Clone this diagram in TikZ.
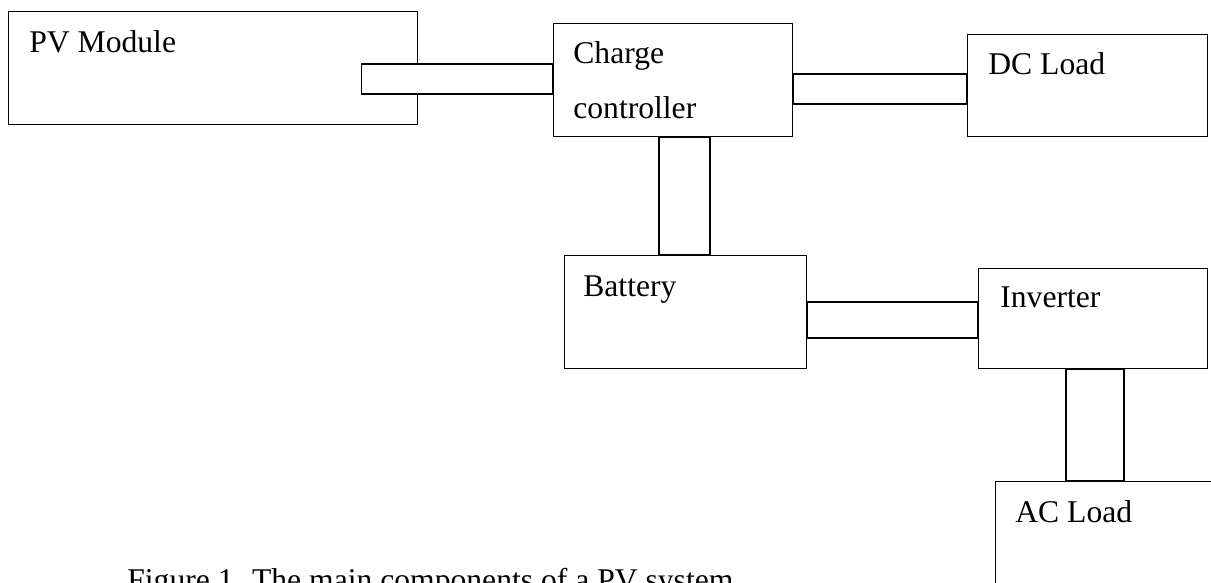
\documentclass[tikz,border=0pt]{standalone}
\usepackage{fontspec}
\setmainfont{Liberation Serif}
\usepackage{tikz}
\usetikzlibrary{positioning}
\usetikzlibrary{calc}

\tikzset{
    unit/.style={draw, line width=0.8pt, anchor=north west, inner sep=0pt},
    tag/.style={anchor=base west, inner sep=0pt, align=left,
        font=\fontsize{18}{31.3}\selectfont},
    pipe/.style={draw, fill=white, line width=0.8pt},
}

\begin{document}
\begin{tikzpicture}[x=0.02cm, y=-0.02cm]
    \useasboundingbox (0, 0) rectangle (1211, 582);
    \clip (0, 0) rectangle (1211, 582);

    \node[unit, minimum width=8.18cm, minimum height=2.26cm] (pv) at (8, 11) {};
    \node[unit, minimum width=4.78cm, minimum height=2.26cm] (cc) at (553, 23) {};
    \node[unit, minimum width=4.80cm, minimum height=2.04cm] (dc) at (967, 34) {};
    \node[unit, minimum width=4.84cm, minimum height=2.26cm] (bat) at (564, 255) {};
    \node[unit, minimum width=4.58cm, minimum height=2.00cm] (inv) at (978, 268) {};
    \node[unit, minimum width=5.00cm, minimum height=3.00cm] (ac) at (995, 481) {};

    \draw[pipe] ($(cc.north west)+(0, 41)$) rectangle ($(pv.north east)+(-57, 83)$);
    \draw[pipe] ($(cc.north east)+(0, 51)$) rectangle ($(dc.north west)+(0, 70)$);
    \draw[pipe] ($(cc.south west)+(106, 0)$) rectangle ($(bat.north west)+(146, 0)$);
    \draw[pipe] ($(bat.north east)+(0, 47)$) rectangle ($(inv.north west)+(0, 70)$);
    \draw[pipe] ($(inv.south west)+(88, 0)$) rectangle ($(ac.north west)+(129, 0)$);

    \node[tag] (pvtag) at (29, 52) {PV Module};
    \node[tag] (cctag) at (573, 118) {Charge\\controller};
    \node[tag] (dctag) at (988, 74) {DC Load};
    \node[tag] (battag) at (583, 296) {Battery};
    \node[tag] (invtag) at (1000, 307) {Inverter};
    \node[tag] (actag) at (1015, 522) {AC Load};

    \node[tag] (caption) at (127, 590) {Figure 1. The main components of a PV system};
\end{tikzpicture}
\end{document}
